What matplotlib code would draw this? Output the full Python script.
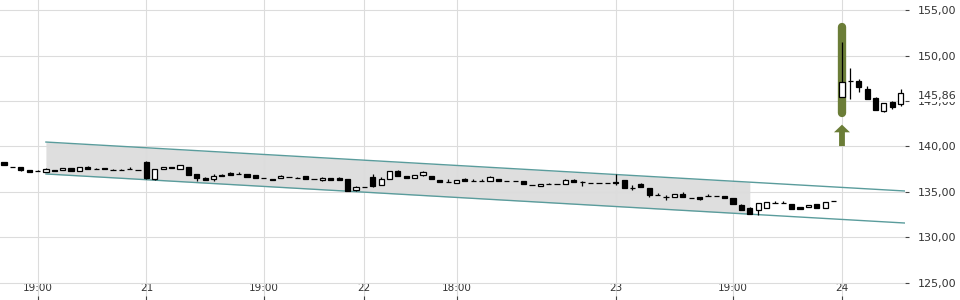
"""Candlestick chart with a falling trend channel and a highlighted gap-up candle.

python3 plot.py  ->  out.png
"""

import matplotlib
import numpy as np

matplotlib.use("Agg")
import matplotlib.pyplot as plt
from matplotlib.ticker import FixedLocator, FuncFormatter
from matplotlib.transforms import blended_transform_factory

OUT_PNG = "out.png"

# OHLC per candle (index = candle position)
opens = [
    138.33, 137.80, 137.70, 137.45, 137.30, 137.23, 137.45, 137.42, 137.67, 137.27,
    137.75, 137.58, 137.62, 137.47, 137.47, 137.50, 137.46, 138.26, 136.43, 137.53,
    137.75, 137.53, 137.78, 136.98, 136.50, 136.43, 136.82, 137.12, 136.95, 136.98,
    136.87, 136.52, 136.43, 136.50, 136.62, 136.59, 136.72, 136.40, 136.28, 136.54,
    136.50, 136.43, 135.25, 135.57, 136.65, 135.77, 136.46, 137.30, 136.76, 136.50,
    136.87, 136.76, 136.32, 136.12, 136.02, 136.39, 136.26, 136.26, 136.17, 136.43,
    136.21, 136.21, 136.17, 135.81, 135.66, 135.89, 135.86, 135.85, 136.28, 136.07,
    136.01, 136.01, 136.01, 136.08, 136.28, 135.49, 135.85, 135.48, 134.68, 134.50,
    134.42, 134.81, 134.39, 134.45, 134.57, 134.57, 134.56, 134.38, 133.57, 133.20,
    132.99, 133.28, 133.84, 133.84, 133.65, 133.32, 133.32, 133.65, 133.20, 134.01,
    145.40, 147.15, 147.23, 146.32, 145.36, 143.90, 144.85, 144.64,
]
highs = [
    138.35, 137.80, 137.70, 137.45, 137.40, 137.60, 137.45, 137.66, 137.67, 137.71,
    137.85, 137.62, 137.68, 137.56, 137.55, 137.70, 137.46, 138.37, 137.53, 137.75,
    137.75, 137.97, 137.78, 136.98, 136.65, 136.94, 136.95, 137.22, 137.18, 136.98,
    136.87, 136.52, 136.43, 136.88, 136.62, 136.65, 136.72, 136.48, 136.60, 136.54,
    136.60, 136.43, 135.66, 135.57, 137.00, 136.60, 137.30, 137.45, 136.76, 136.83,
    137.35, 136.76, 136.32, 136.40, 136.35, 136.52, 136.45, 136.40, 136.75, 136.43,
    136.21, 136.21, 136.17, 135.81, 135.88, 136.03, 135.86, 136.45, 136.40, 136.20,
    136.01, 136.01, 136.01, 137.00, 136.28, 135.80, 136.00, 135.48, 134.85, 134.70,
    134.74, 134.95, 134.39, 134.45, 134.75, 134.57, 134.56, 134.38, 133.70, 133.38,
    133.75, 133.93, 134.00, 133.98, 133.65, 133.32, 133.57, 133.65, 133.93, 134.01,
    151.52, 148.60, 147.40, 146.70, 145.45, 144.74, 145.00, 146.30,
]
lows = [
    137.95, 137.72, 137.35, 137.25, 137.26, 137.23, 137.32, 137.42, 137.30, 137.27,
    137.50, 137.55, 137.52, 137.45, 137.45, 137.48, 137.44, 136.40, 136.35, 137.53,
    137.60, 137.53, 136.87, 136.20, 136.33, 136.20, 136.80, 136.83, 136.93, 136.61,
    136.50, 136.50, 136.32, 136.50, 136.60, 136.57, 136.43, 136.38, 136.20, 136.28,
    136.28, 135.14, 135.14, 135.53, 135.55, 135.77, 136.46, 136.76, 136.50, 136.50,
    136.80, 136.43, 136.06, 136.10, 136.02, 136.20, 136.24, 136.24, 136.17, 136.17,
    136.19, 136.19, 135.91, 135.79, 135.66, 135.87, 135.84, 135.85, 136.06, 135.70,
    135.99, 135.99, 135.99, 135.80, 135.41, 135.20, 135.55, 134.44, 134.66, 134.15,
    134.42, 134.42, 134.37, 134.15, 134.55, 134.55, 134.30, 133.68, 133.06, 132.62,
    132.50, 133.28, 133.82, 133.82, 133.13, 133.13, 133.32, 133.24, 133.20, 133.99,
    145.40, 145.22, 146.00, 145.19, 144.00, 143.80, 144.10, 144.50,
]
closes = [
    137.97, 137.72, 137.45, 137.25, 137.26, 137.50, 137.32, 137.64, 137.30, 137.71,
    137.50, 137.55, 137.52, 137.45, 137.45, 137.48, 137.44, 136.57, 137.53, 137.75,
    137.60, 137.97, 136.87, 136.50, 136.33, 136.80, 136.80, 136.83, 136.93, 136.61,
    136.50, 136.50, 136.32, 136.80, 136.60, 136.57, 136.43, 136.38, 136.54, 136.28,
    136.28, 135.14, 135.55, 135.53, 135.69, 136.43, 137.30, 136.76, 136.50, 136.83,
    137.16, 136.43, 136.06, 136.10, 136.35, 136.20, 136.24, 136.24, 136.61, 136.17,
    136.19, 136.19, 135.91, 135.79, 135.88, 135.87, 135.84, 136.32, 136.06, 136.05,
    135.99, 135.99, 135.99, 135.98, 135.41, 135.47, 135.55, 134.67, 134.66, 134.48,
    134.74, 134.42, 134.37, 134.27, 134.55, 134.55, 134.30, 133.68, 133.06, 132.62,
    133.75, 133.93, 133.82, 133.82, 133.13, 133.13, 133.57, 133.24, 133.93, 133.99,
    147.05, 147.25, 146.50, 145.19, 144.00, 144.74, 144.37, 145.86,
]

tick_pos = [4, 17, 31, 43, 54, 73, 87, 100]
tick_labels = ["19:00", "21", "19:00", "22", "18:00", "23", "19:00", "24"]

# trend channel: start/end candle positions and prices of both borders
channel_x = [5, 107.5]
channel_top = [140.49, 135.11]
channel_bottom = [136.98, 131.59]
channel_fill_end = 89

highlight_idx = 100
highlight_range = [143.7, 153.1]
arrow_range = [140.05, 142.4]

last_price = 145.86

GREEN = "#6b7d37"
TEAL = "#5a9c9c"


def fmt_price(v, _pos=None):
    return f"{v:.2f}".replace(".", ",")


def draw_candles(ax):
    x = np.arange(len(opens))
    o = np.asarray(opens)
    c = np.asarray(closes)
    up = c >= o
    ax.vlines(x, lows, highs, color="black", lw=0.9, zorder=3)
    ax.bar(x, np.abs(c - o), bottom=np.minimum(o, c), width=0.62,
           color=np.where(up, "white", "black"), edgecolor="black", lw=0.9, zorder=4)


def render(out_png: str = OUT_PNG) -> str:
    fig = plt.figure(figsize=(9.6, 3.0), dpi=100)
    ax = fig.add_axes([0, 0, 905 / 960, 1])

    # channel
    fx = np.array([channel_x[0], channel_fill_end])
    ax.fill_between(fx, np.interp(fx, channel_x, channel_bottom),
                    np.interp(fx, channel_x, channel_top), color="#dedede", lw=0, zorder=1)
    ax.plot(channel_x, channel_top, color=TEAL, lw=1.0, zorder=2)
    ax.plot(channel_x, channel_bottom, color=TEAL, lw=1.0, zorder=2)

    # highlight of the gap candle
    ax.plot([highlight_idx, highlight_idx], highlight_range, color=GREEN, lw=6.0,
            solid_capstyle="round", zorder=2.5)
    ax.annotate("", xy=(highlight_idx, arrow_range[1]), xytext=(highlight_idx, arrow_range[0]),
                arrowprops=dict(arrowstyle="simple,head_length=0.55,head_width=1.15,tail_width=0.42",
                                color=GREEN, lw=0, shrinkA=0, shrinkB=0), zorder=2.5)

    draw_candles(ax)

    ax.set_xlim(-0.48, 107.52)
    ax.set_ylim(123.13, 156.1)
    for s in ax.spines.values():
        s.set_visible(False)

    ax.yaxis.tick_right()
    ax.yaxis.set_major_locator(FixedLocator(np.arange(125, 156, 5)))
    ax.yaxis.set_major_formatter(FuncFormatter(fmt_price))
    ax.tick_params(axis="y", length=3, width=0.8, color="#444444", pad=6,
                   labelsize=8, labelcolor="#333333")

    ax.set_xticks(tick_pos)
    ax.set_xticklabels(tick_labels)
    ax.tick_params(axis="x", direction="in", length=3, width=0.8, color="#444444",
                   pad=-12, labelsize=7.5, labelcolor="#333333")

    ax.grid(True, color="#dcdcdc", lw=0.8)
    ax.set_axisbelow("line")

    trans = blended_transform_factory(ax.transAxes, ax.transData)
    ax.annotate(fmt_price(last_price), xy=(1.0, last_price), xycoords=trans,
                xytext=(9.2, -1.8), textcoords="offset points", va="center", ha="left",
                fontsize=8, color="#333333", annotation_clip=False,
                bbox=dict(boxstyle="square,pad=0.1", fc="white", ec="none"))

    fig.savefig(out_png)
    plt.close(fig)
    return out_png


if __name__ == "__main__":
    print(render())
